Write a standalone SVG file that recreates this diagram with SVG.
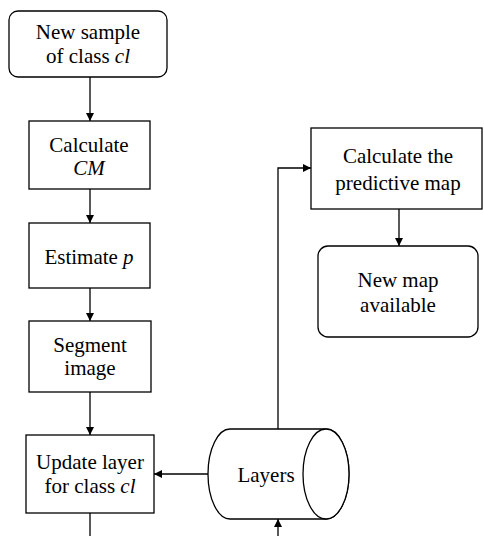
<svg xmlns="http://www.w3.org/2000/svg" width="484" height="536" viewBox="0 0 484 536">
  <style>
    .box { fill: #fff; stroke: #000; stroke-width: 1.3; }
    .wire { fill: none; stroke: #000; stroke-width: 1.3; }
  </style>
  <defs>
    <marker id="arrow" viewBox="0 0 10 10" refX="10" refY="5" markerWidth="8" markerHeight="8" markerUnits="userSpaceOnUse" orient="auto">
      <path d="M0,0 L10,5 L0,10 Z" fill="#000"/>
    </marker>
  </defs>
  <rect width="484" height="536" fill="#fff"/>

  <g id="connectors">
    <line class="wire" x1="90" y1="77" x2="90" y2="121" marker-end="url(#arrow)"/>
    <line class="wire" x1="90" y1="189" x2="90" y2="223" marker-end="url(#arrow)"/>
    <line class="wire" x1="90" y1="288" x2="90" y2="321" marker-end="url(#arrow)"/>
    <line class="wire" x1="90" y1="392" x2="90" y2="435" marker-end="url(#arrow)"/>
    <line class="wire" x1="90" y1="513" x2="90" y2="536"/>
    <line class="wire" x1="208" y1="474" x2="154" y2="474" marker-end="url(#arrow)"/>
    <polyline class="wire" points="278,429 278,168 311,168" marker-end="url(#arrow)"/>
    <line class="wire" x1="278" y1="536" x2="278" y2="519" marker-end="url(#arrow)"/>
    <line class="wire" x1="399" y1="209" x2="399" y2="246" marker-end="url(#arrow)"/>
  </g>

  <g font-family="Liberation Serif, Times New Roman, serif" font-size="21" text-anchor="middle" fill="#000">
    <g id="new-sample">
      <rect class="box" x="9" y="11" width="158" height="66" rx="9"/>
      <text x="88" y="39">New sample</text>
      <text x="88" y="63">of class <tspan font-style="italic">cl</tspan></text>
    </g>

    <g id="calculate-cm">
      <rect class="box" x="29" y="121" width="121" height="68"/>
      <text x="89" y="152">Calculate</text>
      <text x="89" y="175" font-style="italic">CM</text>
    </g>

    <g id="estimate-p">
      <rect class="box" x="29" y="223" width="121" height="65"/>
      <text x="89" y="264">Estimate <tspan font-style="italic">p</tspan></text>
    </g>

    <g id="segment-image">
      <rect class="box" x="29" y="321" width="122" height="71"/>
      <text x="90" y="352">Segment</text>
      <text x="90" y="375">image</text>
    </g>

    <g id="update-layer">
      <rect class="box" x="26" y="435" width="128" height="78"/>
      <text x="90" y="469">Update layer</text>
      <text x="90" y="493">for class <tspan font-style="italic">cl</tspan></text>
    </g>

    <g id="layers">
      <path class="box" d="M230,429 L326,429 A23,45 0 0 1 326,519 L230,519 A22,45 0 0 1 230,429 Z"/>
      <ellipse class="box" cx="326" cy="474" rx="23" ry="45"/>
      <text x="266" y="482">Layers</text>
    </g>

    <g id="predictive-map">
      <rect class="box" x="311" y="128" width="171" height="81"/>
      <text x="398" y="163">Calculate the</text>
      <text x="398" y="190">predictive map</text>
    </g>

    <g id="new-map">
      <rect class="box" x="318" y="246" width="160" height="91" rx="10"/>
      <text x="398" y="287">New map</text>
      <text x="398" y="312">available</text>
    </g>
  </g>
</svg>
